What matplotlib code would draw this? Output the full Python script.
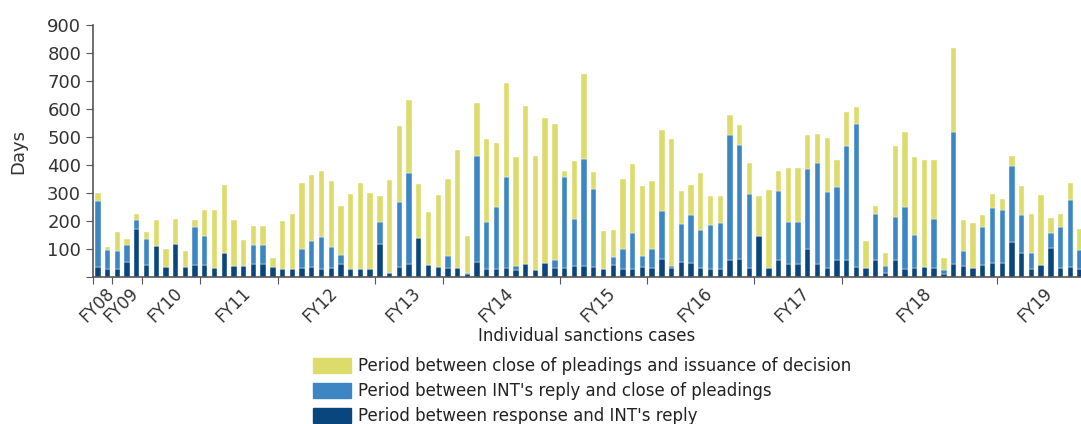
import numpy as np
import matplotlib
matplotlib.use("Agg")
import matplotlib.pyplot as plt
from matplotlib.patches import Patch

# Days per stage for each individual sanctions case
response_to_reply = [35, 28, 28, 55, 172, 44, 109, 35, 118, 35, 44, 44, 32, 86, 39, 39, 47, 47, 35,
                     28, 28, 32, 35, 28, 32, 47, 28, 28, 28, 118, 14, 35, 47, 140, 44, 35, 32, 32, 12,
                     54, 28, 28, 32, 24, 47, 24, 49, 32, 32, 39, 39, 35, 28, 44, 28, 28, 35, 32, 66,
                     32, 54, 51, 32, 28, 28, 62, 66, 32, 147, 32, 62, 47, 47, 101, 47, 32, 62, 62, 35,
                     32, 59, 16, 59, 28, 32, 35, 32, 9, 47, 39, 32, 44, 51, 51, 125, 85, 28, 44, 105,
                     32, 35, 28]
reply_to_close = [238, 68, 64, 60, 33, 91, 0, 0, 0, 0, 135, 103, 0, 0, 0, 0, 68, 68, 0,
                  0, 0, 69, 93, 116, 76, 33, 0, 0, 0, 80, 0, 233, 324, 0, 0, 0, 44, 0, 2,
                  379, 170, 221, 327, 17, 0, 0, 0, 29, 327, 167, 382, 280, 0, 29, 72, 131, 41, 68, 170,
                  6, 137, 171, 135, 159, 166, 446, 407, 264, 0, 0, 246, 151, 151, 285, 362, 272, 258, 406, 512,
                  0, 167, 23, 155, 221, 119, 0, 174, 17, 471, 53, 0, 135, 194, 187, 273, 136, 57, 0, 54,
                  147, 241, 68]
close_to_decision = [26, 12, 68, 21, 21, 25, 93, 66, 89, 58, 23, 91, 209, 241, 163, 93, 67, 67, 34,
                     171, 198, 234, 236, 235, 236, 173, 268, 307, 272, 90, 333, 271, 262, 192, 187, 257, 275, 421, 133,
                     188, 294, 231, 333, 388, 565, 409, 520, 485, 20, 210, 305, 59, 136, 94, 251, 246, 248, 244, 288,
                     454, 117, 106, 204, 101, 94, 71, 69, 110, 141, 280, 71, 193, 193, 121, 102, 191, 98, 120, 62,
                     97, 27, 46, 254, 270, 277, 383, 212, 42, 300, 110, 162, 42, 51, 42, 35, 103, 141, 248, 52,
                     47, 59, 75]

fiscal_years = ["FY08", "FY09", "FY10", "FY11", "FY12", "FY13", "FY14", "FY15", "FY16", "FY17", "FY18", "FY19"]
cases_per_year = [2, 3, 6, 8, 10, 7, 12, 9, 11, 9, 16, 9]

COLOR_DECISION = "#DDDB6B"
COLOR_CLOSE = "#3B86C3"
COLOR_REPLY = "#0A467E"
TEXT = "#333333"

d = np.array(response_to_reply)
b = np.array(reply_to_close)
y = np.array(close_to_decision)
x = np.arange(len(d))

fig = plt.figure(figsize=(10.81, 4.24), dpi=100)
ax = fig.add_axes([0.086, 0.3467, 0.914, 0.594])

w = 0.55
ax.bar(x, d, w, color=COLOR_REPLY, edgecolor="white", linewidth=0.3)
ax.bar(x, b, w, bottom=d, color=COLOR_CLOSE, edgecolor="white", linewidth=0.3)
ax.bar(x, y, w, bottom=d + b, color=COLOR_DECISION, edgecolor="white", linewidth=0.3)

ax.set_xlim(-0.5, 101.1)
ax.set_ylim(0, 900)
ax.set_yticks(range(0, 901, 100))
ax.set_yticklabels([""] + [str(v) for v in range(100, 901, 100)])

# year boundaries as ticks, year names near the middle of each group
ax.xaxis.remove_overlapping_locs = False
starts = np.concatenate([[0], np.cumsum(cases_per_year)[:-1]])
ax.set_xticks(starts - 0.5)
ax.set_xticklabels([])
mids = starts + (np.array(cases_per_year) - 1) / 2 + 0.25
ax.set_xticks(mids, minor=True)
ax.set_xticklabels(fiscal_years, minor=True, rotation=45, ha="right",
                   rotation_mode="anchor", fontsize=12, color=TEXT)
ax.tick_params(axis="x", which="minor", length=0, pad=5)
ax.tick_params(axis="x", which="major", length=5, color="#555555")
ax.tick_params(axis="y", length=5, color="#555555", labelsize=13, labelcolor=TEXT)

for s in ["top", "right"]:
    ax.spines[s].set_visible(False)
for s in ["left", "bottom"]:
    ax.spines[s].set_color("#555555")
    ax.spines[s].set_linewidth(1.2)

ax.set_ylabel("Days", fontsize=13, color=TEXT, labelpad=14)
ax.set_xlabel("Individual sanctions cases", fontsize=12, color="#222222", labelpad=1)

handles = [Patch(color=COLOR_DECISION), Patch(color=COLOR_CLOSE), Patch(color=COLOR_REPLY)]
labels = ["Period between close of pleadings and issuance of decision",
          "Period between INT's reply and close of pleadings",
          "Period between response and INT's reply"]
fig.legend(handles, labels, loc="upper left", bbox_to_anchor=(0.29, 0.157),
           frameon=False, fontsize=12, handlelength=2.25, handleheight=1.0,
           handletextpad=0.45, labelspacing=0.4, borderaxespad=0, borderpad=0,
           labelcolor="#222222")

fig.savefig("out.png", dpi=100)
